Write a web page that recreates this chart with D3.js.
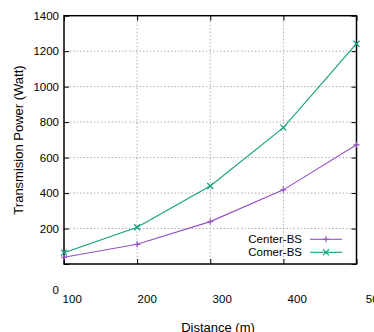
<!DOCTYPE html>
<html><head><meta charset="utf-8">
<script src="https://cdn.jsdelivr.net/npm/d3@7"></script>
<style>body{margin:0;background:#fff;} svg{display:block;} text{font-family:"Liberation Sans",Arial,sans-serif;fill:#000;}</style>
</head><body>
<svg id="c" width="374" height="332"></svg>
<script>
const distances = [100, 200, 300, 400, 500];
const centerBS = [38, 111, 239, 418, 672];
const cornerBS = [64, 207, 440, 769, 1242];
const seriesNames = ["Center-BS", "Comer-BS"];
const yTickValues = [0, 200, 400, 600, 800, 1000, 1200, 1400];
const xTickValues = [100, 200, 300, 400, 500];
const xTickLabels = ["100", "200", "300", "400", "50"];

const svg = d3.select("#c");
const L = 64, R = 356.5, T = 15.7, B = 264;
const x = d3.scaleLinear().domain([100, 500]).range([L, R]);
const y = d3.scaleLinear().domain([0, 1400]).range([B, T]);
const xLab = d3.scaleLinear().domain([100, 500]).range([71.7, 371.7]);

// grid
const g = svg.append("g");
g.selectAll("line.gy").data(yTickValues.filter(v => v > 0 && v < 1400)).join("line")
  .attr("x1", L + 2).attr("x2", R - 2).attr("y1", d => y(d)).attr("y2", d => y(d))
  .attr("stroke", "#999").attr("stroke-width", 0.8).attr("stroke-dasharray", "1.5,2");
g.selectAll("line.gx").data(xTickValues.filter(v => v > 100 && v < 500)).join("line")
  .attr("y1", T + 2).attr("y2", B - 2).attr("x1", d => x(d)).attr("x2", d => x(d))
  .attr("stroke", "#999").attr("stroke-width", 0.8).attr("stroke-dasharray", "1.5,2");

// inward ticks via axes
const tk = 5;
svg.append("g").attr("transform", `translate(${L},0)`)
  .call(d3.axisRight(y).tickValues(yTickValues).tickSize(tk).tickFormat(""))
  .call(s => s.select(".domain").remove());
svg.append("g").attr("transform", `translate(${R},0)`)
  .call(d3.axisLeft(y).tickValues(yTickValues).tickSize(tk).tickFormat(""))
  .call(s => s.select(".domain").remove());
svg.append("g").attr("transform", `translate(0,${B})`)
  .call(d3.axisTop(x).tickValues(xTickValues).tickSize(tk).tickFormat(""))
  .call(s => s.select(".domain").remove());
svg.append("g").attr("transform", `translate(0,${T})`)
  .call(d3.axisBottom(x).tickValues(xTickValues).tickSize(tk).tickFormat(""))
  .call(s => s.select(".domain").remove());
svg.selectAll(".tick line").attr("stroke", "#000").attr("stroke-width", 1);

// y tick labels
const yl = svg.append("g").attr("transform", `translate(59,0)`)
  .call(d3.axisLeft(y).tickValues(yTickValues).tickSize(0).tickPadding(0).tickFormat(d3.format("d")));
yl.select(".domain").remove();
yl.selectAll("text").attr("font-size", "11.5px").attr("font-family", "Liberation Sans, Arial, sans-serif").attr("fill", "#000");
yl.selectAll(".tick").filter(d => d === 0).attr("transform", "translate(0,290)");

// x tick labels
const xl = svg.append("g").attr("transform", `translate(0,295)`)
  .call(d3.axisBottom(xLab).tickValues(xTickValues).tickSize(0).tickPadding(0).tickFormat((d, i) => xTickLabels[i]));
xl.select(".domain").remove();
xl.selectAll("text").attr("font-size", "11.5px").attr("font-family", "Liberation Sans, Arial, sans-serif").attr("fill", "#000");

// frame
svg.append("rect").attr("x", L).attr("y", T).attr("width", R - L).attr("height", B - T)
  .attr("fill", "none").attr("stroke", "#000").attr("stroke-width", 1.5);

// titles
svg.append("text").attr("x", 218).attr("y", 331.5).attr("text-anchor", "middle").attr("font-size", "13px").text("Distance (m)");
svg.append("text").attr("transform", "translate(22.5,140) rotate(-90)").attr("text-anchor", "middle").attr("font-size", "13px").text("Transmision Power (Watt)");

// series
const colors = ["#9450c4", "#10a07a"];
const series = [centerBS, cornerBS];
const line = d3.line().x((d, i) => x(distances[i])).y(d => y(d));
const ms = 3;
function marker(sel, k, cx, cy) {
  if (k === 0) {
    sel.append("path").attr("d", `M${cx-ms},${cy}H${cx+ms}M${cx},${cy-ms}V${cy+ms}`).attr("stroke", colors[k]).attr("stroke-width", 1.2);
  } else {
    sel.append("path").attr("d", `M${cx-ms},${cy-ms}L${cx+ms},${cy+ms}M${cx-ms},${cy+ms}L${cx+ms},${cy-ms}`).attr("stroke", colors[k]).attr("stroke-width", 1.2);
  }
}
series.forEach((s, k) => {
  svg.append("path").datum(s).attr("d", line).attr("fill", "none").attr("stroke", colors[k]).attr("stroke-width", 1.1);
  const mg = svg.append("g");
  s.forEach((v, i) => marker(mg, k, x(distances[i]), y(v)));
});

// legend
const legY = [239.3, 252.3];
seriesNames.forEach((n, k) => {
  svg.append("text").attr("x", 302).attr("y", legY[k]).attr("dy", "0.35em").attr("text-anchor", "end").attr("font-size", "11.5px").text(n);
  svg.append("line").attr("x1", 310).attr("x2", 342).attr("y1", legY[k]).attr("y2", legY[k]).attr("stroke", colors[k]).attr("stroke-width", 1.1);
  marker(svg, k, 326, legY[k]);
});
</script>
</body></html>
